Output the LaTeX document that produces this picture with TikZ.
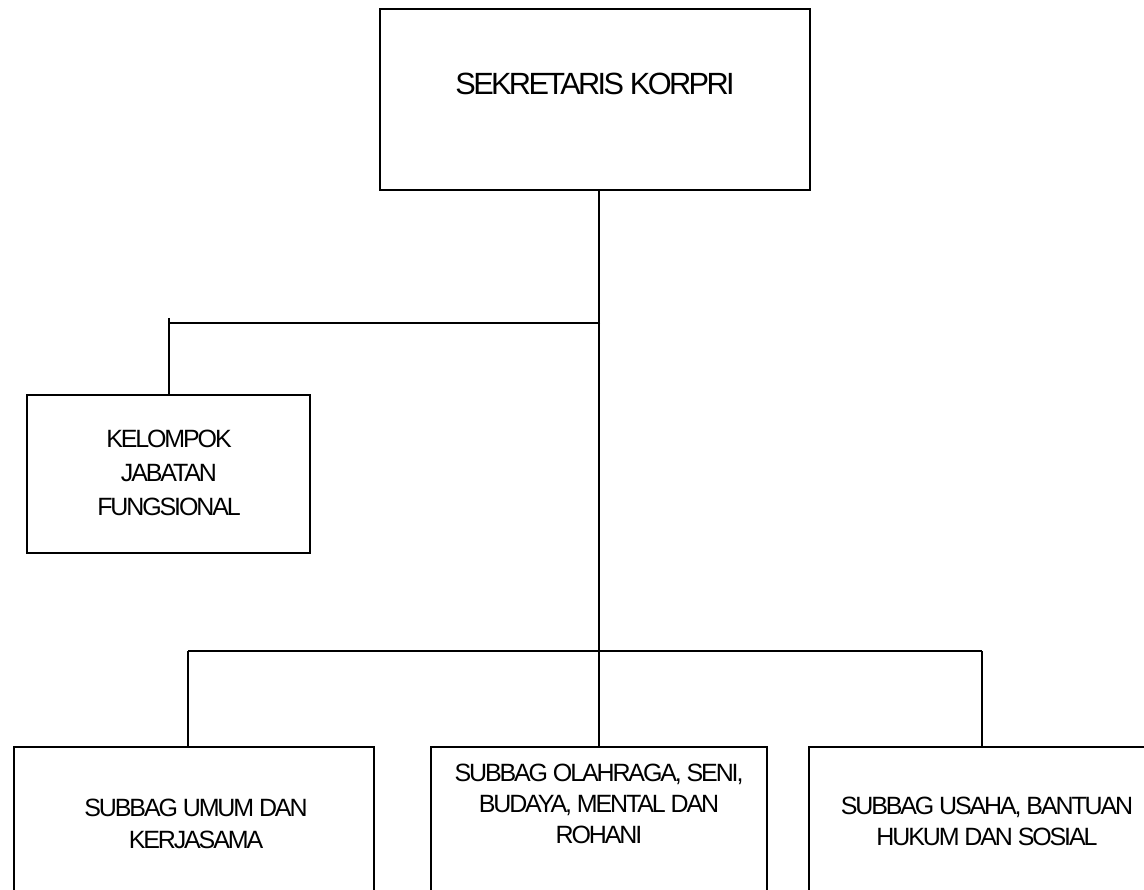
\documentclass[tikz,border=0pt]{standalone}
\usepackage{fontspec}
\setmainfont{Liberation Sans}[LetterSpace=-8.5]
\begin{document}
\begin{tikzpicture}[x=1pt,y=-1pt,
  box/.style={draw,line width=2pt,rectangle,inner sep=0pt},
  bigtxt/.style={align=center,inner sep=0pt,font=\fontsize{30.7}{36}\selectfont},
  txt/.style={align=center,inner sep=0pt,font=\fontsize{25}{32}\selectfont},
  link/.style={line width=2pt}]
\useasboundingbox (0,0) rectangle (1144,890);
\clip (0,0) rectangle (1144,890);
% boxes
\node[box,minimum width=430pt,minimum height=181pt] (top) at (594.5,99.5) {};
\node[bigtxt] (toptxt) at (595,84) {SEKRETARIS KORPRI};
\node[box,minimum width=283pt,minimum height=158pt] (kjf) at (168.5,474) {};
\node[txt,font=\fontsize{25}{34}\selectfont] (kjftxt) at (169,473) {KELOMPOK\\JABATAN\\FUNGSIONAL};
\node[box,minimum width=360pt,minimum height=160pt] (ub) at (194,827) {};
\node[txt] (ubtxt) at (196,824) {SUBBAG UMUM DAN\\KERJASAMA};
\node[box,minimum width=336pt,minimum height=160pt] (ob) at (599,827) {};
\node[txt,font=\fontsize{25}{31}\selectfont] (obtxt) at (599,804) {SUBBAG OLAHRAGA, SENI,\\BUDAYA, MENTAL DAN\\ROHANI};
\node[box,minimum width=348pt,minimum height=160pt] (usb) at (983,827) {};
\node[txt,font=\fontsize{25}{31}\selectfont] (usbtxt) at (987,821.5) {SUBBAG USAHA,  BANTUAN\\HUKUM DAN SOSIAL};
% junctions
\coordinate (j1) at (600,323);
\coordinate (bl) at (188,651);
\coordinate (br) at (982,651);
% connectors
\draw[link] (top.south -| ob.north) -- (ob.north);
\draw[link] (j1) -- (j1 -| kjf.north);
\draw[link] ([yshift=76pt]kjf.north) -- (kjf.north);
\draw[link] (bl) -- (br);
\draw[link] (bl) -- (bl |- ub.north);
\draw[link] (br) -- (br |- usb.north);
\end{tikzpicture}
\end{document}
